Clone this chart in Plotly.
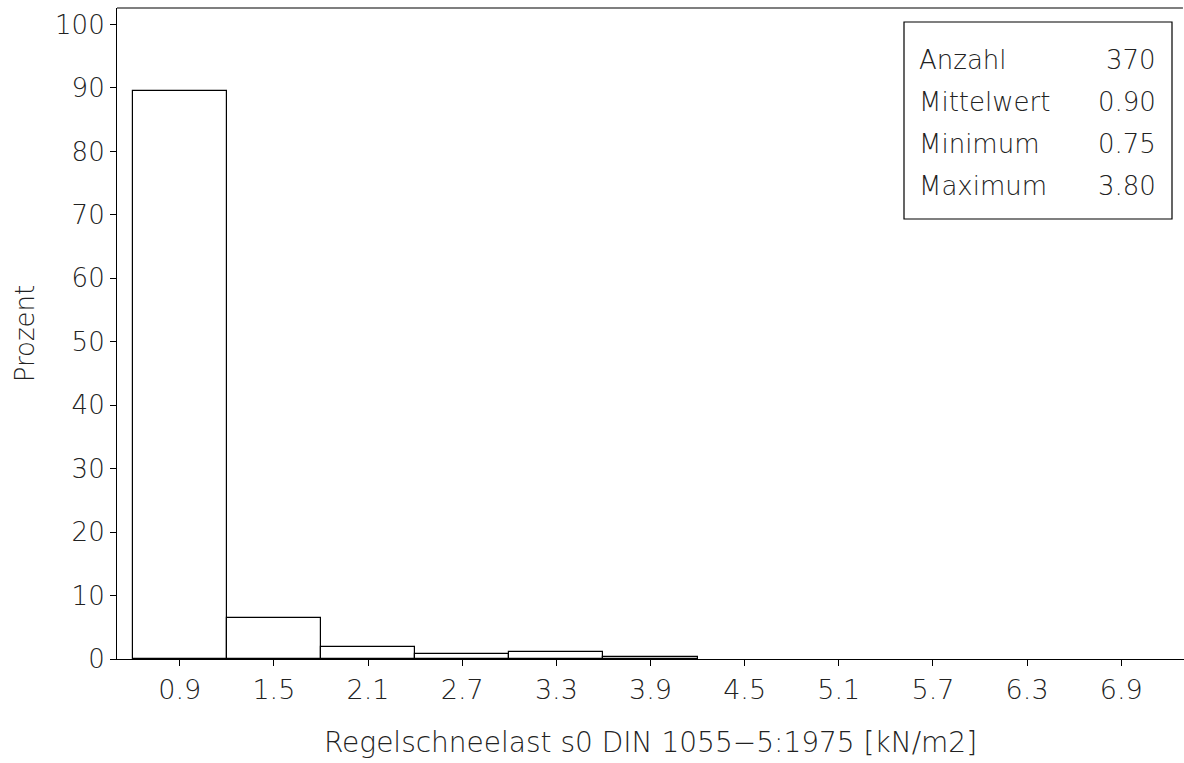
import plotly.graph_objects as go

# Data
bin_centers = [0.9, 1.5, 2.1, 2.7, 3.3, 3.9, 4.5, 5.1, 5.7, 6.3, 6.9]
percent = [89.5, 6.5, 1.9, 0.8, 1.1, 0.3, 0, 0, 0, 0, 0]
tick_labels = ["0.9", "1.5", "2.1", "2.7", "3.3", "3.9", "4.5", "5.1", "5.7", "6.3", "6.9"]
y_ticks = [0, 10, 20, 30, 40, 50, 60, 70, 80, 90, 100]
stat_names = ["Anzahl", "Mittelwert", "Minimum", "Maximum"]
stat_values = ["370", "0.90", "0.75", "3.80"]

FONT = "DejaVu Sans"
TXT = "#222222"

W, H = 1184, 763
L, R, T, B = 117, 0, 8, 104
pw, ph = W - L - R, H - T - B

def px2paper_x(px):
    return (px - L) / pw

def px2paper_y(py):
    return (H - B - py) / ph

fig = go.Figure()
fig.add_trace(go.Bar(
    x=bin_centers, y=percent, width=0.6,
    marker=dict(color="white",
                line=dict(color="black", width=[1.2 if v > 0 else 0 for v in percent])),
    showlegend=False, hoverinfo="x+y",
))

shapes = [
    dict(type="line", xref="paper", yref="paper", x0=0, x1=0.999, y0=1, y1=1,
         line=dict(color="black", width=1.2)),
    dict(type="rect", xref="paper", yref="paper",
         x0=px2paper_x(904), x1=px2paper_x(1172),
         y0=px2paper_y(219), y1=px2paper_y(22),
         line=dict(color="black", width=1.2), fillcolor="white"),
]

annotations = []
row_y = [60, 102, 144, 186]
for name, val, yy in zip(stat_names, stat_values, row_y):
    annotations.append(dict(text=name, xref="paper", yref="paper",
                            x=px2paper_x(917), y=px2paper_y(yy),
                            xanchor="left", yanchor="middle", showarrow=False,
                            font=dict(family=FONT, size=26, color=TXT, weight=200)))
    annotations.append(dict(text=val, xref="paper", yref="paper",
                            x=px2paper_x(1158), y=px2paper_y(yy),
                            xanchor="right", yanchor="middle", showarrow=False,
                            font=dict(family=FONT, size=26, color=TXT, weight=200)))

fig.update_layout(
    width=W, height=H,
    margin=dict(l=L, r=R, t=T, b=B, pad=0),
    paper_bgcolor="white", plot_bgcolor="white",
    bargap=0,
    shapes=shapes,
    annotations=annotations,
    font=dict(family=FONT, color=TXT, weight=200),
    xaxis=dict(
        range=[0.5, 7.3], tickvals=bin_centers, ticktext=tick_labels,
        showgrid=False, zeroline=False, showline=True, linecolor="black", linewidth=1.2,
        ticks="outside", ticklen=6, tickwidth=1.2, tickcolor="black",
        tickfont=dict(family=FONT, size=27, color=TXT, weight=200),
        title=dict(text="Regelschneelast s0 DIN 1055\u22125:1975 [kN/m2]",
                   font=dict(family=FONT, size=28, color=TXT, weight=200), standoff=28),
    ),
    yaxis=dict(
        range=[0, 102.6], tickvals=y_ticks,
        showgrid=False, zeroline=False, showline=True, linecolor="black", linewidth=1.2,
        ticks="outside", ticklen=6, tickwidth=1.2, tickcolor="black",
        tickfont=dict(family=FONT, size=26, color=TXT, weight=200),
        title=dict(text="Prozent", font=dict(family=FONT, size=26, color=TXT, weight=200),
                   standoff=12),
    ),
)

fig.write_html("out.html")
